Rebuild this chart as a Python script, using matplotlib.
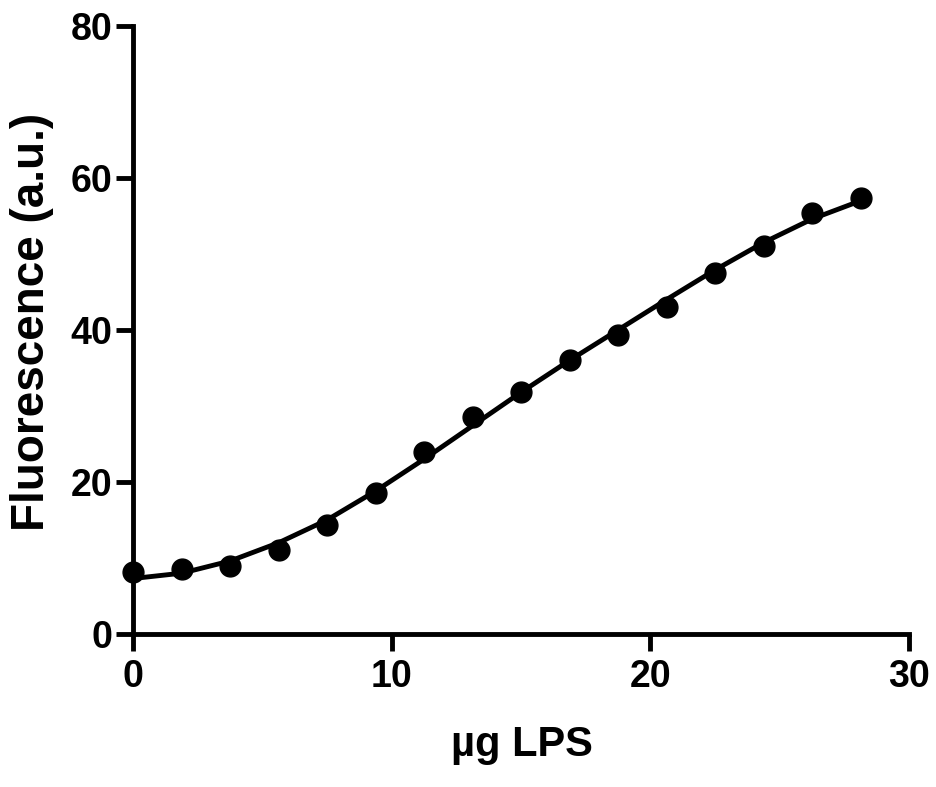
import matplotlib
matplotlib.use("Agg")
import matplotlib.pyplot as plt

# Data
lps_ug = [0, 1.875, 3.75, 5.625, 7.5, 9.375, 11.25, 13.125, 15.0, 16.875,
          18.75, 20.625, 22.5, 24.375, 26.25, 28.125]
fluorescence = [8.2, 8.6, 8.9, 11.0, 14.3, 18.6, 24.0, 28.6, 31.9, 36.0,
                39.3, 43.0, 47.5, 51.0, 55.4, 57.4]
fit_x = [0, 1.875, 3.75, 5.625, 7.5, 9.375, 11.25, 13.125, 15.0, 16.875,
         18.75, 20.625, 22.5, 24.375, 26.25, 28.125]
fit_y = [7.3, 8.0, 9.6, 12.0, 15.0, 18.8, 23.0, 27.4, 31.8, 36.0,
         40.0, 44.0, 47.9, 51.5, 54.6, 57.0]
x_ticks = [0, 10, 20, 30]
y_ticks = [0, 20, 40, 60, 80]

plt.rcParams['font.family'] = ['Liberation Sans', 'DejaVu Sans']

fig = plt.figure(figsize=(9.36, 7.87), dpi=100)
ax = fig.add_axes([133/936, (787-634)/787, (909-133)/936, (634-26)/787])

ax.plot(fit_x, fit_y, color='black', lw=3.5, solid_capstyle='round',
        clip_on=False, zorder=2)
ax.plot(lps_ug, fluorescence, 'o', color='black', ms=15, clip_on=False,
        zorder=3)

ax.set_xlim(0, 30)
ax.set_ylim(0, 80)
ax.set_xticks(x_ticks)
ax.set_yticks(y_ticks)
ax.set_xticklabels([str(t) for t in x_ticks], fontsize=27, fontweight='bold')
ax.set_yticklabels([str(t) for t in y_ticks], fontsize=27, fontweight='bold')

for s in ['top', 'right']:
    ax.spines[s].set_visible(False)
for s in ['left', 'bottom']:
    ax.spines[s].set_linewidth(3.5)
    ax.spines[s].set_capstyle('projecting')
ax.tick_params(axis='both', which='major', direction='out', length=12,
               width=3.5, color='black')
ax.tick_params(axis='x', pad=6)
ax.tick_params(axis='y', pad=3)

ax.set_xlabel('µg LPS', fontsize=30, fontweight='bold')
ax.set_ylabel('Fluorescence (a.u.)', fontsize=33, fontweight='bold')
ax.xaxis.set_label_coords(0.501, -0.150)
ax.yaxis.set_label_coords(-0.130, 0.513)
ax.xaxis.label.set_va('top')
ax.yaxis.label.set_va('center')

fig.savefig('out.png', dpi=100)
